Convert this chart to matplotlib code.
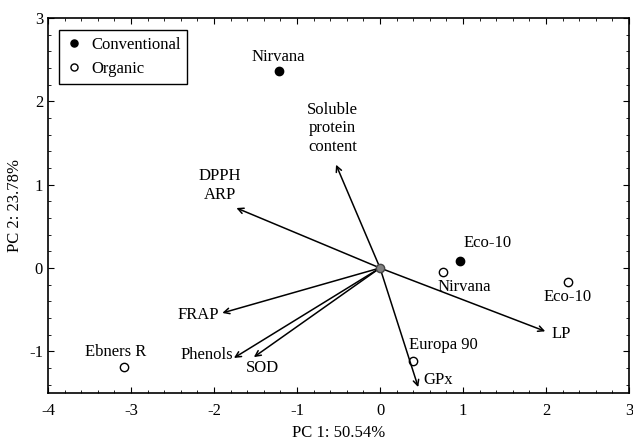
import matplotlib
matplotlib.use("Agg")
import matplotlib.pyplot as plt
from matplotlib.ticker import MultipleLocator

plt.rcParams['font.family'] = ['Liberation Serif', 'DejaVu Serif']
plt.rcParams['axes.unicode_minus'] = False

# sample scores
conv_names = ["Nirvana", "Eco-10"]
conv_x = [-1.22, 0.96]
conv_y = [2.37, 0.08]

org_names = ["Nirvana", "Eco-10", "Europa 90", "Ebners R"]
org_x = [0.76, 2.26, 0.40, -3.08]
org_y = [-0.05, -0.17, -1.12, -1.19]

# loadings (arrow tips)
var_names = ["Soluble\nprotein\ncontent", "DPPH\nARP", "FRAP", "Phenols", "SOD", "LP", "GPx"]
var_x = [-0.53, -1.73, -1.90, -1.76, -1.52, 1.99, 0.46]
var_y = [1.24, 0.72, -0.54, -1.08, -1.07, -0.76, -1.43]

fig = plt.figure(figsize=(6.33, 4.41), dpi=100)
ax = fig.add_axes([0.0758, 0.109, 0.918, 0.85])

for vx, vy in zip(var_x, var_y):
    ax.annotate("", xy=(vx, vy), xytext=(0, 0),
                arrowprops=dict(arrowstyle="->", color="black", lw=1.1,
                                shrinkA=0, shrinkB=0, mutation_scale=10))

ax.plot([0], [0], 'o', color="gray", markeredgecolor="#444444", markersize=6, zorder=5)

ax.plot(conv_x, conv_y, 'o', color="black", markersize=6, linestyle="none", label="Conventional")
ax.plot(org_x, org_y, 'o', markerfacecolor="white", markeredgecolor="black",
        markeredgewidth=1.0, markersize=6, linestyle="none", label="Organic")

fs = 12
# point labels
ax.text(conv_x[0], conv_y[0] + 0.07, conv_names[0], ha="center", va="bottom", fontsize=fs)
ax.text(conv_x[1] + 0.33, conv_y[1] + 0.12, conv_names[1], ha="center", va="bottom", fontsize=fs)
ax.text(org_x[0] + 0.26, org_y[0] - 0.08, org_names[0], ha="center", va="top", fontsize=fs)
ax.text(org_x[1], org_y[1] - 0.08, org_names[1], ha="center", va="top", fontsize=fs)
ax.text(org_x[2] + 0.36, org_y[2] + 0.1, org_names[2], ha="center", va="bottom", fontsize=fs)
ax.text(org_x[3] - 0.1, org_y[3] + 0.08, org_names[3], ha="center", va="bottom", fontsize=fs)

# variable labels
ax.text(var_x[0] - 0.04, var_y[0] + 0.12, var_names[0], ha="center", va="bottom",
        fontsize=fs, linespacing=1.2)
ax.text(var_x[1] - 0.2, var_y[1] + 0.06, var_names[1], ha="center", va="bottom",
        fontsize=fs, linespacing=1.25)
ax.text(var_x[2] - 0.04, var_y[2] - 0.03, var_names[2], ha="right", va="center", fontsize=fs)
ax.text(var_x[3] - 0.01, var_y[3] + 0.03, var_names[3], ha="right", va="center", fontsize=fs)
ax.text(var_x[4] + 0.1, var_y[4] - 0.13, var_names[4], ha="center", va="center", fontsize=fs)
ax.text(var_x[5] + 0.07, var_y[5] - 0.03, var_names[5], ha="left", va="center", fontsize=fs)
ax.text(var_x[6] + 0.06, var_y[6] + 0.08, var_names[6], ha="left", va="center", fontsize=fs)

ax.set_xlim(-4, 3)
ax.set_ylim(-1.5, 3)
ax.xaxis.set_major_locator(MultipleLocator(1))
ax.yaxis.set_major_locator(MultipleLocator(1))
ax.xaxis.set_minor_locator(MultipleLocator(0.2))
ax.yaxis.set_minor_locator(MultipleLocator(0.2))
ax.tick_params(which="both", direction="in", top=True, right=True, labelsize=12)
ax.tick_params(which="major", length=4)
ax.tick_params(which="minor", length=2)
ax.tick_params(axis="x", pad=7)
for s in ax.spines.values():
    s.set_linewidth(1.2)

ax.set_xlabel("PC 1: 50.54%", fontsize=12)
ax.set_ylabel("PC 2: 23.78%", fontsize=12)
ax.xaxis.set_label_coords(0.5, -0.085)
ax.yaxis.set_label_coords(-0.043, 0.5)

leg = ax.legend(loc="upper left", fontsize=12, fancybox=False, framealpha=1,
                edgecolor="black", handletextpad=0.5, borderpad=0.4,
                handlelength=1.0, markerscale=0.85,
                bbox_to_anchor=(0.005, 0.99))
leg.get_frame().set_linewidth(1.0)

fig.savefig("out.png", dpi=100)
